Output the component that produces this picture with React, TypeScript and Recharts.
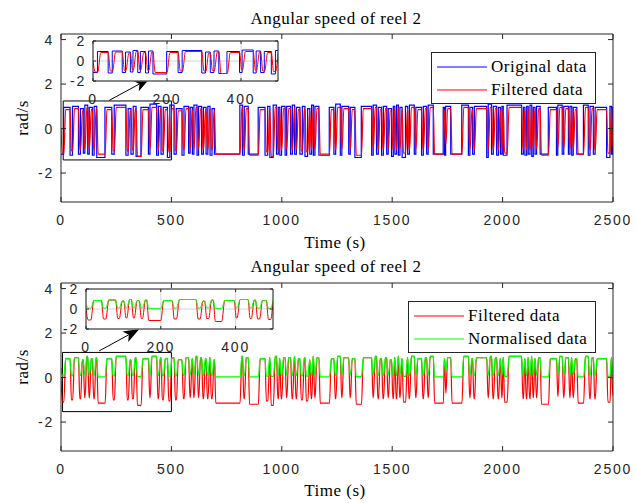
import React from 'react'
import { LineChart, Line, XAxis, YAxis, CartesianGrid, ReferenceArea, ReferenceLine } from 'recharts'

// low pulses of reel 2 speed (seconds)
const pulseStart = [
  0, 41, 79, 101, 121, 142, 162, 230, 294, 317,
  340, 396, 433, 453, 482, 512, 548, 578, 595, 616,
  637, 657, 675, 695, 822, 848, 924, 946, 976, 991,
  1015, 1040, 1058, 1082, 1105, 1127, 1143, 1168, 1236, 1265,
  1303, 1331, 1407, 1429, 1452, 1475, 1497, 1512, 1528, 1545,
  1570, 1600, 1633, 1656, 1686, 1737, 1765, 1845, 1864, 1928,
  1950, 1973, 1990, 2003, 2086, 2101, 2116, 2132, 2147, 2170,
  2244, 2270, 2298, 2313, 2336, 2388, 2411, 2471, 2493,
]
const pulseEnd = [
  12, 52, 88, 108, 128, 150, 199, 241, 304, 327,
  362, 403, 441, 463, 493, 522, 557, 585, 602, 623,
  645, 665, 684, 810, 830, 893, 936, 961, 984, 999,
  1022, 1048, 1066, 1093, 1117, 1135, 1150, 1215, 1244, 1272,
  1310, 1360, 1414, 1437, 1460, 1482, 1505, 1520, 1535, 1560,
  1578, 1607, 1641, 1663, 1731, 1742, 1815, 1852, 1872, 1935,
  1958, 1981, 1997, 2020, 2094, 2109, 2124, 2139, 2154, 2207,
  2250, 2277, 2305, 2320, 2366, 2396, 2419, 2486, 2498,
]

// original data: level in each pulse, and level before/after it (first entry = value at t=0)
const originalLow = [
  -1.15, -1.2, -1.15, -1.1, -1.15, -1.2, -1.3, -1.15, -1.2, -1.15,
  -1.25, -1.15, -1.2, -1.15, -1.3, -1.15, -1.2, -1.1, -1.15, -1.2,
  -1.15, -1.15, -1.2, -1.15, -1.2, -1.15, -1.2, -1.3, -1.15, -1.2,
  -1.2, -1.15, -1.15, -1.15, -1.25, -1.15, -1.2, -1.2, -1.15, -1.2,
  -1.15, -1.3, -1.2, -1.15, -1.2, -1.15, -1.25, -1.15, -1.2, -1.3,
  -1.15, -1.15, -1.2, -1.15, -1.15, -1.2, -1.15, -1.2, -1.15, -1.3,
  -1.15, -1.2, -1.15, -1.2, -1.15, -1.2, -1.15, -1.25, -1.15, -1.15,
  -1.2, -1.15, -1.15, -1.2, -1.15, -1.2, -1.15, -1.3, -1.15,
]
const originalHigh = [
  -1.15,
  0.95, 1.0, 0.9, 1.05, 0.95, 1.0, 0.95, 1.05, 0.9, 1.0,
  0.95, 1.1, 1.0, 0.95, 1.05, 0.9, 1.0, 0.95, 1.05, 1.0,
  0.95, 1.0, 0.9, 1.05, 1.0, 0.95, 1.0, 1.05, 0.95, 1.0,
  1.0, 1.05, 0.95, 1.0, 0.9, 1.05, 1.0, 0.95, 1.1, 1.0,
  0.95, 1.0, 1.05, 0.95, 1.0, 0.9, 1.0, 1.05, 0.95, 1.0,
  1.05, 0.95, 1.0, 1.05, 0.95, 1.0, 1.05, 0.95, 1.0, 1.1,
  1.0, 0.95, 1.0, 1.05, 0.95, 1.0, 1.05, 0.95, 1.0, 0.95,
  1.05, 1.0, 1.0, 0.95, 1.05, 1.0, 0.95, 1.0, 0.95,
]

// filtered data
const filteredLow = [
  -1.1, -1.0, -0.95, -0.9, -0.9, -0.95, -1.15, -1.0, -1.0, -0.95,
  -1.25, -0.9, -0.95, -1.0, -1.05, -1.0, -0.95, -0.9, -0.9, -0.9,
  -0.95, -0.95, -0.95, -1.15, -0.95, -1.2, -1.05, -1.25, -0.95, -0.95,
  -0.9, -0.95, -0.95, -1.0, -1.05, -0.95, -0.9, -1.15, -0.95, -0.9,
  -0.9, -1.2, -0.9, -0.95, -0.95, -0.9, -0.95, -0.95, -0.9, -1.1,
  -0.95, -0.9, -0.95, -0.9, -1.15, -0.7, -1.15, -0.9, -0.95, -0.9,
  -0.95, -0.95, -0.9, -1.1, -0.95, -0.95, -0.95, -0.9, -0.9, -1.2,
  -0.85, -0.9, -0.9, -0.9, -1.15, -0.95, -0.95, -1.1, -0.8,
]
const filteredHigh = [
  0.0,
  0.85, 0.9, 0.8, 0.95, 0.85, 0.9, 0.85, 0.95, 0.8, 0.9,
  0.85, 0.95, 0.9, 0.85, 0.9, 0.8, 0.9, 0.85, 0.95, 0.9,
  0.85, 0.9, 0.8, 0.95, 0.9, 0.85, 0.9, 0.95, 0.85, 0.9,
  0.9, 0.95, 0.85, 0.9, 0.8, 0.95, 0.9, 0.85, 0.95, 0.9,
  0.85, 0.9, 0.95, 0.85, 0.9, 0.8, 0.9, 0.95, 0.85, 0.9,
  0.95, 0.85, 0.9, 0.95, 0.85, 0.9, 0.95, 0.85, 0.9, 0.95,
  0.9, 0.85, 0.9, 0.95, 0.85, 0.9, 0.95, 0.85, 0.9, 0.85,
  0.95, 0.9, 0.9, 0.85, 0.95, 0.9, 0.85, 0.9, 0.85,
]

// normalised data: floor reached in each pulse; the highs follow the filtered data
const normalisedStart = 0.45
const normalisedLow = [
  0.08, 0.08, 0.1, 0.12, 0.12, 0.1, 0.03, 0.08, 0.08, 0.1,
  0.04, 0.12, 0.1, 0.08, 0.06, 0.08, 0.1, 0.12, 0.12, 0.12,
  0.1, 0.1, 0.1, 0.03, 0.1, 0.03, 0.06, 0.05, 0.1, 0.1,
  0.12, 0.1, 0.1, 0.08, 0.06, 0.1, 0.12, 0.03, 0.1, 0.12,
  0.12, 0.04, 0.12, 0.1, 0.1, 0.12, 0.1, 0.1, 0.12, 0.05,
  0.1, 0.12, 0.1, 0.12, 0.03, 0.3, 0.03, 0.12, 0.1, 0.12,
  0.1, 0.1, 0.12, 0.05, 0.1, 0.1, 0.1, 0.12, 0.12, 0.03,
  0.15, 0.12, 0.12, 0.12, 0.03, 0.1, 0.1, 0.05, 0.2,
]

const xTicks = [0, 500, 1000, 1500, 2000, 2500]
const yTicks = [-2, 0, 2, 4]
const insetXTicks = [0, 200, 400]
const insetYTicks = [-2, 0, 2]

const AXIS = '#262626'
const SERIF = '"Liberation Serif", "Times New Roman", serif'
const tickFont = { fontFamily: '"Liberation Sans", Arial, sans-serif', fontSize: 14, letterSpacing: 1.8, fill: AXIS }

type Pt = { t: number; v: number }

// square wave with vertical edges (raw signal)
function squareWave(lows: number[], highs: number[]): Pt[] {
  const pts: Pt[] = [{ t: 0, v: highs[0] }]
  pulseStart.forEach((s, i) => {
    const e = pulseEnd[i]
    pts.push({ t: s, v: highs[i] }, { t: s, v: lows[i] }, { t: e, v: lows[i] }, { t: e, v: highs[i + 1] })
  })
  pts.push({ t: 2500, v: highs[highs.length - 1] })
  return pts
}

// same pulses with the lagging edges of the filtered signal
function laggedWave(lows: number[], highs: number[]): Pt[] {
  const pts: Pt[] = []
  pulseStart.forEach((s, i) => {
    const e = pulseEnd[i]
    const next = i + 1 < pulseStart.length ? pulseStart[i + 1] : Infinity
    const fall = Math.min(6, e - s + 1)
    const hold = Math.max(e + 1, s + fall + 0.5)
    pts.push({ t: s, v: highs[i] }, { t: s + fall, v: lows[i] }, { t: hold, v: lows[i] })
    pts.push({ t: Math.max(hold + 1, Math.min(e + 9, next - 1)), v: highs[i + 1] })
  })
  return pts
}

const original = squareWave(originalLow, originalHigh)
const filtered = laggedWave(filteredLow, filteredHigh)
const normalised = laggedWave(normalisedLow, [normalisedStart, ...filteredHigh.slice(1)])

type Series = { name: string; color: string; points: Pt[]; curve: 'linear' | 'monotone' }

const topSeries: Series[] = [
  { name: 'Original data', color: '#0000ff', points: original, curve: 'linear' },
  { name: 'Filtered data', color: '#ff0000', points: filtered, curve: 'monotone' },
]
const bottomSeries: Series[] = [
  { name: 'Filtered data', color: '#ff0000', points: filtered, curve: 'monotone' },
  { name: 'Normalised data', color: '#00ff00', points: normalised, curve: 'monotone' },
]

// axes are 1px thick, so margins are one less than the plot offsets
function axes(xt: number[], yt: number[], xd: number[], yd: number[], len: number) {
  return [
    <XAxis key="xb" xAxisId="b" dataKey="t" type="number" domain={xd} ticks={xt} interval={0} allowDataOverflow
      height={1} tickSize={0} tickMargin={0} stroke={AXIS}
      tick={(p: any) => (
        <g>
          <line x1={p.x} y1={p.y} x2={p.x} y2={p.y - len} stroke={AXIS} />
          <text x={p.x} y={p.y + 23} textAnchor="middle" {...tickFont}>{p.payload.value}</text>
        </g>
      )} />,
    <XAxis key="xt" xAxisId="t" orientation="top" dataKey="t" type="number" domain={xd} ticks={xt} interval={0}
      allowDataOverflow height={1} tickSize={0} tickMargin={0} stroke={AXIS}
      tick={(p: any) => <line x1={p.x} y1={p.y} x2={p.x} y2={p.y + len} stroke={AXIS} />} />,
    <YAxis key="yl" yAxisId="l" type="number" domain={yd} ticks={yt} interval={0} allowDataOverflow
      width={1} tickSize={0} tickMargin={0} stroke={AXIS}
      tick={(p: any) => (
        <g>
          <line x1={p.x} y1={p.y} x2={p.x + len} y2={p.y} stroke={AXIS} />
          <text x={p.x - 7} y={p.y + 5} textAnchor="end" {...tickFont}>{p.payload.value}</text>
        </g>
      )} />,
    <YAxis key="yr" yAxisId="r" orientation="right" type="number" domain={yd} ticks={yt} interval={0}
      allowDataOverflow width={1} tickSize={0} tickMargin={0} stroke={AXIS}
      tick={(p: any) => <line x1={p.x} y1={p.y} x2={p.x - len} y2={p.y} stroke={AXIS} />} />,
  ]
}

const ArrowShape = (p: any) => {
  const { x1, y1, x2, y2 } = p
  const dx = x2 - x1
  const dy = y2 - y1
  const d = Math.hypot(dx, dy) || 1
  const ux = dx / d
  const uy = dy / d
  const L = 16
  const H = 6
  const bx = x2 - ux * L
  const by = y2 - uy * L
  const nx = x2 - ux * L * 0.75
  const ny = y2 - uy * L * 0.75
  return (
    <g>
      <line x1={x1} y1={y1} x2={nx} y2={ny} stroke="#000" strokeWidth={1} />
      <polygon points={`${x2},${y2} ${bx - uy * H},${by + ux * H} ${nx},${ny} ${bx + uy * H},${by - ux * H}`} fill="#000" />
    </g>
  )
}

function MainPanel({ top, height, margin, series, rect, arrow }: {
  top: number; height: number; margin: any; series: Series[]; rect: number[]; arrow: number[]
}) {
  return (
    <div style={{ position: 'absolute', left: 0, top, width: 636, height }}>
      <LineChart width={636} height={height} margin={margin}>
        {axes(xTicks, yTicks, [0, 2500], [-3.3, 4.25], 5)}
        {series.map((s) => (
          <Line key={s.name} xAxisId="b" yAxisId="l" data={s.points} dataKey="v" name={s.name} type={s.curve}
            stroke={s.color} strokeWidth={1.2} dot={false} activeDot={false} isAnimationActive={false} />
        ))}
        <ReferenceArea xAxisId="b" yAxisId="l" x1={rect[0]} x2={rect[1]} y1={rect[2]} y2={rect[3]}
          fill="none" fillOpacity={0} stroke="#000" strokeWidth={1} ifOverflow="visible" />
        <ReferenceLine xAxisId="b" yAxisId="l" segment={[{ x: arrow[0], y: arrow[1] }, { x: arrow[2], y: arrow[3] }]}
          shape={ArrowShape} ifOverflow="visible" />
      </LineChart>
    </div>
  )
}

function InsetPanel({ left, top, right, series }: { left: number; top: number; right: number; series: Series[] }) {
  return (
    <div style={{ position: 'absolute', left, top, width: 240, height: 85 }}>
      <LineChart width={240} height={85} margin={{ top: 10, right, bottom: 33, left: 42 }}>
        <CartesianGrid xAxisId="b" yAxisId="l" fill="#fff" fillOpacity={1} stroke="#d4d4d4" />
        {axes(insetXTicks, insetYTicks, [0, 500], [-2, 2], 3)}
        {series.map((s) => (
          <Line key={s.name} xAxisId="b" yAxisId="l" data={s.points.filter((q) => q.t <= 530)} dataKey="v"
            type={s.curve} stroke={s.color} strokeWidth={1} dot={false} activeDot={false} isAnimationActive={false} />
        ))}
      </LineChart>
    </div>
  )
}

function LegendBox({ left, top, width, series }: { left: number; top: number; width: number; series: Series[] }) {
  return (
    <div style={{
      position: 'absolute', left, top, width, height: 52, boxSizing: 'border-box',
      border: `1px solid ${AXIS}`, background: '#fff', padding: '2px 0 0 5px',
    }}>
      {series.map((s) => (
        <div key={s.name} style={{ display: 'flex', alignItems: 'center', height: 23 }}>
          <svg width={50} height={4}><line x1={0} y1={2} x2={50} y2={2} stroke={s.color} strokeWidth={1.2} /></svg>
          <span style={{ marginLeft: 4, fontFamily: SERIF, fontSize: 17, letterSpacing: 0.5, lineHeight: 1, color: '#000' }}>
            {s.name}
          </span>
        </div>
      ))}
    </div>
  )
}

function Label({ x, y, children, rotate }: { x: number; y: number; children: React.ReactNode; rotate?: boolean }) {
  return (
    <div style={{
      position: 'absolute', left: x, top: y, whiteSpace: 'nowrap', lineHeight: 1,
      fontFamily: SERIF, fontSize: 17, letterSpacing: 0.5, color: '#000',
      transform: `translate(-50%, -50%)${rotate ? ' rotate(-90deg)' : ''}`,
    }}>
      {children}
    </div>
  )
}

export default function App() {
  return (
    <div style={{ position: 'absolute', left: 0, top: 0, width: 636, height: 503, background: '#fff' }}>
      <MainPanel top={0} height={250} margin={{ top: 33, right: 22, bottom: 47, left: 60 }} series={topSeries}
        rect={[10, 500, -1.41, 1.24]} arrow={[219, 1.27, 403, 2.26]} />
      <MainPanel top={250} height={253} margin={{ top: 32, right: 22, bottom: 51, left: 60 }} series={bottomSeries}
        rect={[7, 500, -1.53, 1.13]} arrow={[173, 1.2, 355, 2.18]} />
      <InsetPanel left={50} top={30} right={11} series={topSeries} />
      <InsetPanel left={43} top={278} right={9} series={bottomSeries} />
      <LegendBox left={431} top={52} width={165} series={topSeries} />
      <LegendBox left={408} top={301} width={188} series={bottomSeries} />
      <Label x={336} y={18}>Angular speed of reel 2</Label>
      <Label x={336} y={266}>Angular speed of reel 2</Label>
      <Label x={335} y={242}>Time (s)</Label>
      <Label x={335} y={490}>Time (s)</Label>
      <Label x={22} y={118} rotate>rad/s</Label>
      <Label x={22} y={367} rotate>rad/s</Label>
    </div>
  )
}
